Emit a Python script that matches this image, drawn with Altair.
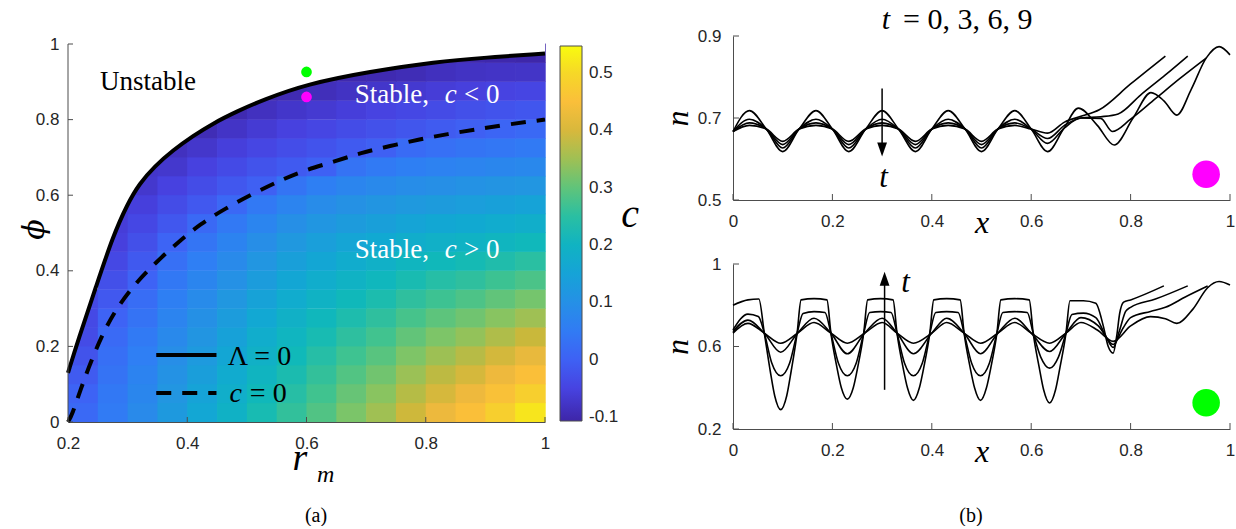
import altair as alt
import pandas as pd

FONT_SANS = "Liberation Sans"
FONT_SERIF = "Liberation Serif"
AXC = "#4d4d4d"
LABC = "#262626"

# ---------------- panel (a) values ----------------
r_centers = [0.225, 0.275, 0.325, 0.375, 0.425, 0.475, 0.525, 0.575,
             0.625, 0.675, 0.725, 0.775, 0.825, 0.875, 0.925, 0.975]
phi_centers = [0.025, 0.075, 0.125, 0.175, 0.225, 0.275, 0.325, 0.375, 0.425, 0.475,
               0.525, 0.575, 0.625, 0.675, 0.725, 0.775, 0.825, 0.875, 0.925, 0.975]
N = None
c_columns = [
    [0.015, 0.004, -0.010, -0.023, -0.036, -0.040, -0.040] + [N] * 13,
    [0.051, 0.044, 0.036, 0.027, 0.017, 0.003, -0.014, -0.028, -0.041, -0.055, -0.060, -0.060] + [N] * 8,
    [0.086, 0.077, 0.068, 0.058, 0.048, 0.036, 0.023, 0.003, -0.013, -0.028, -0.042, -0.056, -0.071, -0.075] + [N] * 6,
    [0.125, 0.115, 0.105, 0.095, 0.083, 0.072, 0.059, 0.045, 0.029, 0.005, -0.016, -0.034, -0.052, -0.071, -0.085] + [N] * 5,
    [0.160, 0.149, 0.138, 0.126, 0.114, 0.102, 0.088, 0.074, 0.058, 0.039, 0.015, -0.014, -0.034, -0.053, -0.073, -0.093] + [N] * 4,
    [0.194, 0.183, 0.171, 0.159, 0.146, 0.132, 0.118, 0.103, 0.086, 0.068, 0.046, 0.014, -0.016, -0.037, -0.057, -0.078, -0.098] + [N] * 3,
    [0.229, 0.217, 0.204, 0.191, 0.178, 0.163, 0.148, 0.132, 0.115, 0.095, 0.073, 0.046, -0.002, -0.023, -0.044, -0.065, -0.085, -0.100] + [N] * 2,
    [0.259, 0.246, 0.233, 0.220, 0.205, 0.191, 0.175, 0.158, 0.140, 0.121, 0.099, 0.072, 0.037, -0.011, -0.032, -0.053, -0.074, -0.096] + [N] * 2,
    [0.288, 0.274, 0.260, 0.245, 0.229, 0.213, 0.196, 0.178, 0.159, 0.139, 0.116, 0.090, 0.059, 0.000, -0.022, -0.044, -0.067, -0.089, -0.100, N],
    [0.322, 0.306, 0.289, 0.272, 0.254, 0.236, 0.217, 0.197, 0.176, 0.154, 0.130, 0.104, 0.074, 0.035, -0.012, -0.035, -0.058, -0.081, -0.100, N],
    [0.351, 0.333, 0.314, 0.294, 0.275, 0.255, 0.234, 0.212, 0.189, 0.166, 0.140, 0.113, 0.084, 0.049, -0.002, -0.026, -0.050, -0.074, -0.098, N],
    [0.389, 0.368, 0.347, 0.324, 0.302, 0.279, 0.255, 0.230, 0.206, 0.180, 0.153, 0.124, 0.094, 0.060, 0.019, -0.018, -0.043, -0.068, -0.093, N],
    [0.423, 0.398, 0.374, 0.349, 0.323, 0.298, 0.271, 0.245, 0.217, 0.189, 0.161, 0.130, 0.099, 0.066, 0.029, -0.010, -0.036, -0.061, -0.086, -0.100],
    [0.452, 0.424, 0.397, 0.369, 0.341, 0.313, 0.285, 0.255, 0.226, 0.197, 0.167, 0.136, 0.105, 0.072, 0.038, -0.002, -0.028, -0.055, -0.081, -0.100],
    [0.485, 0.455, 0.424, 0.394, 0.363, 0.332, 0.301, 0.270, 0.238, 0.207, 0.175, 0.143, 0.111, 0.077, 0.043, 0.008, -0.022, -0.050, -0.078, -0.102],
    [0.518, 0.485, 0.451, 0.417, 0.384, 0.350, 0.317, 0.283, 0.250, 0.216, 0.183, 0.149, 0.115, 0.082, 0.048, 0.015, -0.017, -0.046, -0.077, -0.105],
]

# Lambda = 0 curve (solid) and c = 0 curve (dashed)
lam_r = [0.2, 0.217, 0.247, 0.275, 0.30, 0.32, 0.345, 0.376, 0.41, 0.443, 0.485, 0.527, 0.60, 0.706, 0.817, 0.90, 1.0]
lam_phi = [0.13, 0.217, 0.358, 0.49, 0.578, 0.631, 0.676, 0.719, 0.757, 0.79, 0.823, 0.852, 0.894, 0.927, 0.953, 0.964, 0.975]
cz_r = [0.2, 0.207, 0.221, 0.239, 0.259, 0.282, 0.312, 0.348, 0.384, 0.422, 0.464, 0.509,
        0.552, 0.594, 0.647, 0.691, 0.74, 0.79, 0.837, 0.884, 0.932, 0.985, 1.0]
cz_phi = [0.0, 0.019, 0.086, 0.162, 0.237, 0.302, 0.365, 0.423, 0.475, 0.524, 0.565, 0.603,
          0.636, 0.665, 0.689, 0.712, 0.73, 0.748, 0.762, 0.774, 0.786, 0.797, 0.80]

green_pt = (0.6, 0.926)
magenta_pt = (0.6, 0.86)

cbar_ticks = [-0.1, 0, 0.1, 0.2, 0.3, 0.4, 0.5]
cbar_stops = [-0.107, -0.0525, 0.002, 0.0565, 0.111, 0.1655, 0.22, 0.2745, 0.329, 0.3835, 0.438, 0.4925, 0.547]
cbar_colors = ["#3e26a8", "#4741e0", "#3e62f5", "#2f7ef4", "#2394e2", "#11a9d2", "#10b9b9",
               "#40c38f", "#84c563", "#c9b83b", "#fbb93e", "#f6d22b", "#f9fb0e"]

rm_ticks = [0.2, 0.4, 0.6, 0.8, 1.0]
phi_ticks = [0, 0.2, 0.4, 0.6, 0.8, 1.0]

# ---------------- panel (b) values ----------------
xb_ticks = [0, 0.2, 0.4, 0.6, 0.8, 1.0]
top_yticks = [0.5, 0.7, 0.9]
bot_yticks = [0.2, 0.6, 1.0]

P20 = [0, 0.033, 0.067, 0.1, 0.133, 0.167, 0.2, 0.233, 0.267, 0.3,
       0.333, 0.367, 0.4, 0.433, 0.467, 0.5, 0.533, 0.567, 0.6, 0.633]

top_t0_x = P20 + [0.665, 0.695, 0.733, 0.767, 0.805, 0.841, 0.867, 0.893, 0.922, 0.952, 0.978, 1.0]
top_t0_n = [0.667, 0.718, 0.673, 0.618, 0.673, 0.718, 0.673, 0.618, 0.673, 0.718,
            0.673, 0.618, 0.673, 0.718, 0.673, 0.618, 0.673, 0.718, 0.673, 0.618,
            0.673, 0.724, 0.682, 0.634, 0.70, 0.762, 0.742, 0.707, 0.77, 0.846, 0.874, 0.854]
top_t3_x = P20 + [0.667, 0.7, 0.74, 0.763, 0.8, 0.85, 0.9, 0.952]
top_t3_n = [0.667, 0.697, 0.673, 0.627, 0.673, 0.697, 0.673, 0.627, 0.673, 0.697,
            0.673, 0.627, 0.673, 0.697, 0.673, 0.627, 0.673, 0.697, 0.673, 0.638,
            0.676, 0.700, 0.699, 0.667, 0.697, 0.747, 0.797, 0.846]
top_t6_x = P20 + [0.667, 0.7, 0.74, 0.775, 0.82, 0.87, 0.915]
top_t6_n = [0.667, 0.688, 0.673, 0.635, 0.673, 0.688, 0.673, 0.635, 0.673, 0.688,
            0.673, 0.635, 0.673, 0.688, 0.673, 0.635, 0.673, 0.688, 0.673, 0.650,
            0.682, 0.700, 0.703, 0.710, 0.756, 0.805, 0.851]
top_t9_x = P20 + [0.667, 0.7, 0.737, 0.8, 0.87]
top_t9_n = [0.667, 0.682, 0.673, 0.643, 0.673, 0.682, 0.673, 0.643, 0.673, 0.682,
            0.673, 0.643, 0.673, 0.682, 0.673, 0.643, 0.673, 0.682, 0.673, 0.663,
            0.690, 0.704, 0.720, 0.783, 0.851]

Q22 = [0, 0.03, 0.063, 0.096, 0.13, 0.163, 0.197, 0.23, 0.265, 0.30,
       0.33, 0.363, 0.40, 0.43, 0.465, 0.498, 0.533, 0.567, 0.60, 0.637, 0.67, 0.70]
bot_t0_x = Q22 + [0.733, 0.765, 0.80, 0.84, 0.87, 0.893, 0.925, 0.955, 0.978, 1.0]
bot_t0_n = [0.665, 0.712, 0.665, 0.616, 0.665, 0.716, 0.665, 0.616, 0.665, 0.716,
            0.665, 0.616, 0.665, 0.716, 0.665, 0.616, 0.665, 0.716, 0.665, 0.616,
            0.665, 0.716, 0.68, 0.625, 0.70, 0.745, 0.735, 0.712, 0.78, 0.885, 0.915, 0.898]
bot_t3_x = Q22 + [0.735, 0.765, 0.785, 0.80, 0.84, 0.87, 0.91, 0.955]
bot_t3_n = [0.672, 0.728, 0.665, 0.572, 0.665, 0.737, 0.665, 0.565, 0.665, 0.737,
            0.665, 0.565, 0.665, 0.737, 0.665, 0.565, 0.665, 0.737, 0.665, 0.576,
            0.665, 0.74, 0.70, 0.61, 0.69, 0.74, 0.77, 0.79, 0.84, 0.893]
bot_t6_x = [0, 0.03, 0.051, 0.063, 0.078, 0.096, 0.114, 0.129, 0.141, 0.163,
            0.185, 0.197, 0.212, 0.23, 0.248, 0.263, 0.275, 0.297, 0.318, 0.33,
            0.345, 0.363, 0.381, 0.396, 0.408, 0.43, 0.453, 0.465, 0.48, 0.498,
            0.516, 0.531, 0.543, 0.567, 0.592, 0.604, 0.619, 0.637, 0.655, 0.67,
            0.682, 0.705, 0.73, 0.75, 0.765, 0.778, 0.79, 0.80, 0.85, 0.915]
bot_t6_n = [0.68, 0.757, 0.745, 0.665, 0.52, 0.458, 0.52, 0.665, 0.76, 0.769,
            0.765, 0.665, 0.52, 0.458, 0.52, 0.665, 0.765, 0.769, 0.765, 0.665,
            0.52, 0.458, 0.52, 0.665, 0.765, 0.769, 0.765, 0.665, 0.52, 0.458,
            0.52, 0.665, 0.765, 0.769, 0.765, 0.665, 0.55, 0.495, 0.55, 0.665,
            0.755, 0.762, 0.74, 0.65, 0.595, 0.68, 0.77, 0.79, 0.83, 0.894]
bot_t9_x = [0, 0.03, 0.052, 0.063, 0.075, 0.084, 0.096, 0.108, 0.117, 0.129,
            0.137, 0.163, 0.189, 0.197, 0.209, 0.218, 0.23, 0.242, 0.251, 0.263,
            0.271, 0.297, 0.322, 0.33, 0.342, 0.351, 0.363, 0.375, 0.384, 0.396,
            0.404, 0.43, 0.457, 0.465, 0.477, 0.486, 0.498, 0.51, 0.519, 0.531,
            0.539, 0.567, 0.596, 0.604, 0.616, 0.625, 0.637, 0.649, 0.658, 0.67,
            0.678, 0.705, 0.73, 0.745, 0.755, 0.765, 0.772, 0.778, 0.786, 0.80, 0.867]
bot_t9_n = [0.80, 0.826, 0.830, 0.665, 0.48, 0.36, 0.294, 0.36, 0.48, 0.665,
            0.826, 0.832, 0.826, 0.665, 0.50, 0.40, 0.345, 0.40, 0.50, 0.665,
            0.826, 0.832, 0.826, 0.665, 0.50, 0.40, 0.339, 0.40, 0.50, 0.665,
            0.826, 0.832, 0.826, 0.665, 0.50, 0.40, 0.339, 0.40, 0.50, 0.665,
            0.826, 0.832, 0.826, 0.665, 0.50, 0.39, 0.326, 0.39, 0.50, 0.665,
            0.822, 0.822, 0.81, 0.70, 0.60, 0.568, 0.65, 0.76, 0.815, 0.826, 0.894]

# arrows / markers in panel (b)
top_arrow = dict(x=0.3, n_start=0.772, n_head=0.623)
bot_arrow = dict(x=0.305, n_start=0.39, n_head=0.929)
top_dot = (0.952, 0.563)
bot_dot = (0.952, 0.327)

# ---------------- build tables ----------------
OVL = 0.0012  # tiny overlap so neighbouring cells show no hairline seams
heat_rows = []
for i, rc in enumerate(r_centers):
    for j, pc in enumerate(phi_centers):
        v = c_columns[i][j]
        if v is not None:
            heat_rows.append({"r0": rc - 0.025, "r1": rc + 0.025 + OVL,
                              "p0": pc - 0.025, "p1": pc + 0.025 + OVL, "c": v})
heat_df = pd.DataFrame(heat_rows)

W_A, H_A = 477, 386
XS_A = alt.Scale(domain=[0.2, 1.0], nice=False, zero=False)
YS_A = alt.Scale(domain=[0, 1.0212], nice=False, zero=False)

label_style = dict(labelFont=FONT_SANS, labelFontSize=17, labelColor=LABC, grid=False,
                   ticks=False, tickSize=0, labelFlush=False, labelOverlap=False)

AX_XA = alt.Axis(values=rm_ticks, format="~g", title=None, domainColor=AXC, domainWidth=1,
                 labelPadding=13, **label_style)
AX_YA = alt.Axis(values=phi_ticks, format="~g", title="ϕ", titleFont="DejaVu Serif",
                 titleFontStyle="italic", titleFontWeight="normal", titleFontSize=30,
                 titleColor="black", titleAngle=270, titleX=-34, titleY=193,
                 titleAlign="center", titleBaseline="middle", domain=False,
                 labelPadding=9, **label_style)

XA = alt.X("r0:Q", scale=XS_A, axis=AX_XA)
YA = alt.Y("p0:Q", scale=YS_A, axis=AX_YA)

cscale = alt.Scale(type="linear", domain=cbar_stops, range=cbar_colors, interpolate="rgb")
legend = alt.Legend(type="gradient", orient="none", legendX=492, legendY=10, direction="vertical",
                    gradientLength=375, gradientThickness=22, values=cbar_ticks,
                    labelFont=FONT_SANS, labelFontSize=17, labelColor=LABC, labelOffset=7,
                    gradientStrokeColor=AXC, gradientStrokeWidth=1, padding=0,
                    labelOverlap=False,
                    labelExpr="(datum.value < 0 ? '-' : '') + format(abs(datum.value), '~g')")

heat = alt.Chart(heat_df).mark_rect().encode(
    x=XA, x2="r1:Q", y=YA, y2="p1:Q",
    color=alt.Color("c:Q", scale=cscale, legend=legend, title=None),
)

lam_df = pd.DataFrame({"r0": lam_r, "p0": lam_phi})
cz_df = pd.DataFrame({"r0": cz_r, "p0": cz_phi})

white_top = alt.Chart(lam_df).mark_area(color="white", opacity=1, interpolate="basis").encode(
    x=XA, y=YA, y2=alt.datum(1.0212))
lam_line = alt.Chart(lam_df).mark_line(color="black", strokeWidth=4, interpolate="basis").encode(x=XA, y=YA)
cz_line = alt.Chart(cz_df).mark_line(color="black", strokeWidth=4, strokeDash=[15, 11],
                                     interpolate="basis").encode(x=XA, y=YA)

g_dot = alt.Chart(pd.DataFrame({"r0": [green_pt[0]], "p0": [green_pt[1]]})).mark_circle(
    size=115, color="#00ff00", opacity=1).encode(x=XA, y=YA)
m_dot = alt.Chart(pd.DataFrame({"r0": [magenta_pt[0]], "p0": [magenta_pt[1]]})).mark_circle(
    size=115, color="#ff00ff", opacity=1).encode(x=XA, y=YA)

leg_solid = alt.Chart(pd.DataFrame({"r0": [0.348, 0.449], "p0": [0.177, 0.177]})).mark_line(
    color="black", strokeWidth=4).encode(x=XA, y=YA)
leg_dash = alt.Chart(pd.DataFrame({"r0": [0.348, 0.449], "p0": [0.077, 0.077]})).mark_line(
    color="black", strokeWidth=4, strokeDash=[15, 11]).encode(x=XA, y=YA)


def data_text(rows, xenc, yenc, **kw):
    df = pd.DataFrame(rows)
    props = dict(font=FONT_SERIF, baseline="alphabetic")
    props.update(kw)
    return alt.Chart(df).mark_text(**props).encode(x=xenc, y=yenc, text="txt:N")


def pix_text(txt, px, py, **kw):
    props = dict(font=FONT_SERIF, baseline="alphabetic", color="black")
    props.update(kw)
    return alt.Chart(pd.DataFrame({"txt": [txt]})).mark_text(**props).encode(
        x=alt.value(px), y=alt.value(py), text="txt:N")


a_texts = [
    data_text([{"r0": 0.334, "p0": 0.878, "txt": "Unstable"}], XA, YA,
              fontSize=27, align="center", color="black"),
    data_text([{"r0": 0.681, "p0": 0.844, "txt": "Stable,"},
               {"r0": 0.681, "p0": 0.434, "txt": "Stable,"}], XA, YA,
              fontSize=27, align="left", color="white"),
    data_text([{"r0": 0.832, "p0": 0.844, "txt": "c"},
               {"r0": 0.832, "p0": 0.434, "txt": "c"}], XA, YA,
              fontSize=27, align="left", color="white", fontStyle="italic"),
    data_text([{"r0": 0.864, "p0": 0.844, "txt": "< 0"},
               {"r0": 0.864, "p0": 0.434, "txt": "> 0"}], XA, YA,
              fontSize=27, align="left", color="white"),
    data_text([{"r0": 0.468, "p0": 0.151, "txt": "Λ = 0"}], XA, YA,
              fontSize=28, align="left", color="black"),
    data_text([{"r0": 0.471, "p0": 0.053, "txt": "c"}], XA, YA,
              fontSize=28, align="left", color="black", fontStyle="italic"),
    data_text([{"r0": 0.505, "p0": 0.053, "txt": "= 0"}], XA, YA,
              fontSize=28, align="left", color="black"),
    pix_text("c", 562, 191, fontSize=40, align="center", fontStyle="italic"),
    pix_text("r", 232, 434, fontSize=38, align="center", fontStyle="italic"),
    pix_text("m", 249, 446, fontSize=24, align="left", fontStyle="italic"),
    pix_text("(a)", 248, 486, fontSize=20, align="center"),
]

xt_a = alt.Chart(pd.DataFrame({"r0": rm_ticks})).mark_rule(color=AXC, strokeWidth=1).encode(
    x=XA, y=alt.value(H_A), y2=alt.value(H_A - 5))
yt_a = alt.Chart(pd.DataFrame({"p0": phi_ticks})).mark_rule(color=AXC, strokeWidth=1).encode(
    y=YA, x=alt.value(0), x2=alt.value(5))
yline_a = alt.Chart(pd.DataFrame({"p0": [0], "p1": [1]})).mark_rule(color=AXC, strokeWidth=1).encode(
    y=YA, y2="p1:Q", x=alt.value(0))
anchor = alt.Chart(pd.DataFrame({"a": [0]})).mark_rect(color="white", opacity=1).encode(
    x=alt.value(-68), x2=alt.value(-60), y=alt.value(-36), y2=alt.value(-30))

left = alt.layer(anchor, heat, white_top, cz_line, lam_line, g_dot, m_dot, leg_solid, leg_dash,
                 *a_texts, xt_a, yt_a, yline_a).properties(width=W_A, height=H_A)

# ---------------- panel (b) ----------------
W_B = 497
H_T, H_B = 164, 165
XS_B = alt.Scale(domain=[0, 1], nice=False, zero=False)


def series_df(pairs):
    rows = []
    for name, xs, ns in pairs:
        for xv, nv in zip(xs, ns):
            rows.append({"x": xv, "n": nv, "t": name})
    return pd.DataFrame(rows)


def make_panel(curves, yscale_dom, yticks, H, arrow, head_shape, dot, dot_color,
               t_pos, extra_texts, xtitle_y):
    XS = XS_B
    YS = alt.Scale(domain=yscale_dom, nice=False, zero=False)
    AXX = alt.Axis(values=xb_ticks, format="~g", title="x", titleFont=FONT_SERIF,
                   titleFontStyle="italic", titleFontWeight="normal", titleFontSize=32,
                   titleColor="black", titleX=W_B / 2, titleY=xtitle_y, titleAlign="center",
                   titleBaseline="alphabetic", domainColor=AXC, domainWidth=1,
                   labelPadding=13, **label_style)
    AXY = alt.Axis(values=yticks, format="~g", title="n", titleFont=FONT_SERIF,
                   titleFontStyle="italic", titleFontWeight="normal", titleFontSize=32,
                   titleColor="black", titleAngle=270, titleX=-56, titleY=H / 2,
                   titleAlign="center", titleBaseline="middle", domainColor=AXC, domainWidth=1,
                   labelPadding=12, **label_style)
    X = alt.X("x:Q", scale=XS, axis=AXX)
    Y = alt.Y("n:Q", scale=YS, axis=AXY)
    lines = alt.Chart(series_df(curves)).mark_line(
        color="black", strokeWidth=1.6, interpolate="monotone").encode(x=X, y=Y, detail="t:N")
    shaft = alt.Chart(pd.DataFrame({"x": [arrow["x"]], "n": [arrow["n_start"]],
                                    "n2": [arrow["n_head"]]})).mark_rule(
        color="black", strokeWidth=1.5).encode(x=X, y=Y, y2="n2:Q")
    head = alt.Chart(pd.DataFrame({"x": [arrow["x"]], "n": [arrow["n_head"]]})).mark_point(
        shape=head_shape, size=196, filled=True, color="black", opacity=1, strokeWidth=0).encode(x=X, y=Y)
    dotc = alt.Chart(pd.DataFrame({"x": [dot[0]], "n": [dot[1]]})).mark_circle(
        size=760, color=dot_color, opacity=1).encode(x=X, y=Y)
    tlab = alt.Chart(pd.DataFrame({"x": [t_pos[0]], "n": [t_pos[1]], "txt": ["t"]})).mark_text(
        font=FONT_SERIF, fontSize=31, fontStyle="italic", align="center", baseline="alphabetic",
        color="black").encode(x=X, y=Y, text="txt:N")
    xt = alt.Chart(pd.DataFrame({"x": xb_ticks})).mark_rule(color=AXC, strokeWidth=1).encode(
        x=X, y=alt.value(H), y2=alt.value(H - 6))
    yt = alt.Chart(pd.DataFrame({"n": yticks})).mark_rule(color=AXC, strokeWidth=1).encode(
        y=Y, x=alt.value(0), x2=alt.value(6))
    return alt.layer(lines, shaft, head, dotc, tlab, xt, yt, *extra_texts).properties(
        width=W_B, height=H)


top_curves = [("t0", top_t0_x, top_t0_n), ("t3", top_t3_x, top_t3_n),
              ("t6", top_t6_x, top_t6_n), ("t9", top_t9_x, top_t9_n)]
bot_curves = [("t0", bot_t0_x, bot_t0_n), ("t3", bot_t3_x, bot_t3_n),
              ("t6", bot_t6_x, bot_t6_n), ("t9", bot_t9_x, bot_t9_n)]

top_titles = [
    pix_text("t", 153, -7, fontSize=30, align="center", fontStyle="italic"),
    pix_text("= 0, 3, 6, 9", 170, -7, fontSize=30, align="left"),
]
bot_titles = [pix_text("(b)", 238, 258, fontSize=20, align="center")]

top = make_panel(top_curves, [0.5, 0.9], top_yticks, H_T, top_arrow,
                 "M0,1L-0.7,-1L0.7,-1Z", top_dot, "#ff00ff", (0.303, 0.532), top_titles, 32)
bottom = make_panel(bot_curves, [0.2, 1.0], bot_yticks, H_B, bot_arrow,
                    "M0,-1L-0.7,1L0.7,1Z", bot_dot, "#00ff00", (0.347, 0.865), bot_titles, 32)

right = alt.vconcat(top, bottom, spacing=64, bounds="flush")
chart = alt.hconcat(left, right, spacing=188, bounds="flush").resolve_scale(
    color="independent").resolve_legend(color="independent").properties(
    padding=0).configure_view(stroke=None)

chart.save("out.html", embed_options={"renderer": "svg", "actions": False})
